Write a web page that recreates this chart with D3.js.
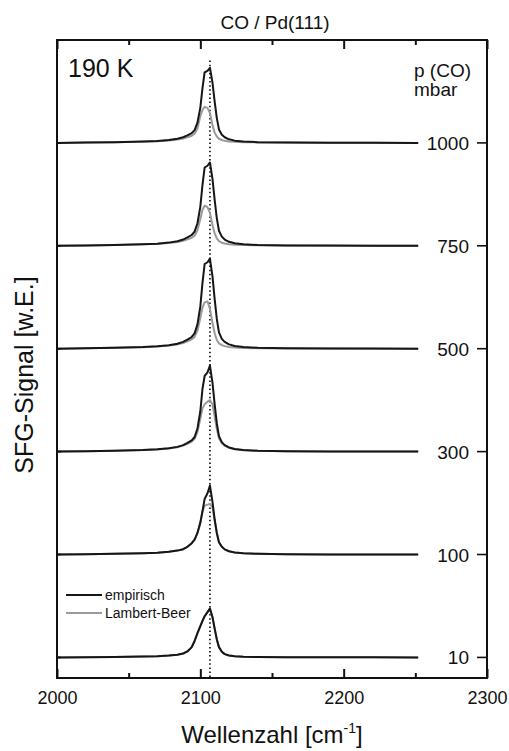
<!DOCTYPE html>
<html><head><meta charset="utf-8">
<script src="https://cdn.jsdelivr.net/npm/d3@7"></script>
<style>body{margin:0;background:#fff}svg{display:block}text{font-family:"Liberation Sans",Arial,sans-serif;fill:#111}</style>
</head><body><svg id="c" width="509" height="751"></svg>
<script>
// ---- data ----
const wavenumbers = [2000,2020,2040,2060,2070,2078,2084,2088,2091,2094,2096,2098,2100,2101.5,2103,2105,2106.7,2108.5,2110,2111.5,2113,2115,2117,2120,2124,2130,2140,2160,2190,2220,2252];
const pressures = ["10","100","300","500","750","1000"];
const offsets = [2,12,22,32,42,52];
const empirisch = [
 [0,0.02,0.05,0.09,0.12,0.18,0.26,0.38,0.58,1.0,1.6,2.35,3.05,3.55,4.0,4.4,4.76,3.9,2.8,1.75,1.0,0.55,0.32,0.18,0.11,0.07,0.04,0.02,0.01,0.005,0],
 [0,0.03,0.07,0.12,0.17,0.26,0.38,0.52,0.75,1.1,1.45,2.1,3.1,4.2,5.4,5.95,6.7,5.1,3.4,2.1,1.2,0.75,0.5,0.32,0.2,0.12,0.07,0.03,0.01,0.005,0],
 [0,0.03,0.08,0.15,0.22,0.32,0.46,0.63,0.84,1.09,1.42,2.25,3.92,6.1,7.35,7.7,8.35,6.68,4.59,2.76,1.5,0.92,0.63,0.4,0.25,0.15,0.08,0.04,0.02,0.01,0],
 [0,0.04,0.09,0.16,0.23,0.33,0.48,0.66,0.88,1.14,1.49,2.36,4.11,6.39,8.23,8.4,8.75,7.0,4.81,2.89,1.58,0.96,0.66,0.42,0.26,0.16,0.09,0.04,0.02,0.01,0],
 [0,0.03,0.08,0.15,0.21,0.31,0.45,0.61,0.81,1.05,1.38,2.19,3.81,5.91,7.61,7.78,8.1,6.48,4.46,2.67,1.46,0.89,0.61,0.39,0.24,0.15,0.08,0.04,0.02,0.01,0],
 [0,0.03,0.07,0.13,0.19,0.28,0.4,0.55,0.73,0.95,1.24,1.97,3.43,5.33,6.86,7.01,7.3,5.84,4.02,2.41,1.31,0.8,0.55,0.35,0.22,0.13,0.07,0.04,0.01,0.01,0]
];
const lambertBeer = [
 [0,0.02,0.05,0.09,0.12,0.18,0.26,0.38,0.58,1.0,1.6,2.35,3.05,3.55,4.0,4.4,4.76,3.9,2.8,1.75,1.0,0.55,0.32,0.18,0.11,0.07,0.04,0.02,0.01,0.005,0],
 [0,0.03,0.07,0.12,0.17,0.26,0.38,0.52,0.75,1.1,1.45,2.1,3.1,4.2,4.75,4.85,4.9,4.6,3.3,2.1,1.2,0.75,0.5,0.32,0.2,0.12,0.07,0.03,0.01,0.005,0],
 [0,0.03,0.08,0.15,0.21,0.3,0.43,0.58,0.76,0.98,1.25,1.9,3.2,4.2,4.6,4.85,5.0,4.6,3.4,2.2,1.3,0.82,0.58,0.37,0.23,0.14,0.08,0.04,0.02,0.01,0],
 [0,0.04,0.09,0.15,0.21,0.3,0.42,0.56,0.72,0.92,1.15,1.75,3.0,4.0,4.5,4.6,3.9,2.5,1.5,0.85,0.52,0.35,0.25,0.17,0.12,0.08,0.05,0.03,0.01,0.005,0],
 [0,0.03,0.08,0.14,0.19,0.27,0.37,0.48,0.62,0.78,0.98,1.5,2.6,3.5,3.9,3.75,3.2,2.0,1.2,0.72,0.45,0.3,0.22,0.15,0.1,0.07,0.05,0.03,0.01,0.005,0],
 [0,0.03,0.07,0.12,0.17,0.24,0.33,0.43,0.55,0.7,0.9,1.4,2.6,3.2,3.5,3.4,2.9,1.7,1.0,0.62,0.4,0.28,0.2,0.14,0.1,0.07,0.05,0.03,0.01,0.005,0]
];
const xTicks = [2000,2100,2200,2300];
const xMinorTicks = [2050,2150,2250];
const refWavenumber = 2106.7;
const refTop = 60;
const legendItems = ["empirisch","Lambert-Beer"];

// ---- layout ----
const svg = d3.select("#c");
const L=57, R=487, T=40, B=678;
const x = d3.scaleLinear().domain([2000,2300]).range([L,R]);
const y = d3.scaleLinear().domain([0,62]).range([B,T]);
const colEmp = "#161616", colLB = "#9a9a9a";

// dotted reference line
svg.append("line").attr("x1",x(refWavenumber)).attr("x2",x(refWavenumber))
  .attr("y1",y(refTop)).attr("y2",y(0))
  .attr("stroke","#222").attr("stroke-width",1.8).attr("stroke-dasharray","1.5,2.6");

const line = (off)=>d3.line().x((d,i)=>x(wavenumbers[i])).y(d=>y(d+off));
lambertBeer.forEach((s,k)=>{
  svg.append("path").attr("d",line(offsets[k])(s)).attr("fill","none")
    .attr("stroke",colLB).attr("stroke-width",2).attr("stroke-linejoin","round");
});
empirisch.forEach((s,k)=>{
  svg.append("path").attr("d",line(offsets[k])(s)).attr("fill","none")
    .attr("stroke",colEmp).attr("stroke-width",2).attr("stroke-linejoin","round");
});

// pressure labels and right ticks
pressures.forEach((p,k)=>{
  svg.append("text").attr("x",469).attr("y",y(offsets[k])+7).attr("text-anchor","end")
    .attr("font-size",19).text(p);
  svg.append("line").attr("x1",R-10).attr("x2",R).attr("y1",y(offsets[k])).attr("y2",y(offsets[k]))
    .attr("stroke","#111").attr("stroke-width",1.6);
  svg.append("line").attr("x1",L).attr("x2",L+4).attr("y1",y(offsets[k])).attr("y2",y(offsets[k]))
    .attr("stroke","#111").attr("stroke-width",1.6);
});

// axes
const axB = d3.axisBottom(x).tickValues(xTicks).tickSize(-9).tickPadding(13).tickFormat(d3.format("d"));
const gB = svg.append("g").attr("transform",`translate(0,${B})`).call(axB);
gB.select(".domain").remove();
gB.selectAll("line").attr("stroke","#111").attr("stroke-width",2);
gB.selectAll("text").attr("font-size",18).attr("font-family","Liberation Sans, Arial, sans-serif").attr("fill","#111");
const axBm = d3.axisBottom(x).tickValues(xMinorTicks).tickSize(-5).tickFormat("");
const gBm = svg.append("g").attr("transform",`translate(0,${B})`).call(axBm);
gBm.select(".domain").remove(); gBm.selectAll("line").attr("stroke","#111").attr("stroke-width",2);
const axT = d3.axisTop(x).tickValues(xTicks).tickSize(-9).tickFormat("");
const gT = svg.append("g").attr("transform",`translate(0,${T})`).call(axT);
gT.select(".domain").remove(); gT.selectAll("line").attr("stroke","#111").attr("stroke-width",2);
const axTm = d3.axisTop(x).tickValues(xMinorTicks).tickSize(-5).tickFormat("");
const gTm = svg.append("g").attr("transform",`translate(0,${T})`).call(axTm);
gTm.select(".domain").remove(); gTm.selectAll("line").attr("stroke","#111").attr("stroke-width",2);

// frame
svg.append("rect").attr("x",L).attr("y",T).attr("width",R-L).attr("height",B-T)
  .attr("fill","none").attr("stroke","#111").attr("stroke-width",2);

// legend
legendItems.forEach((t,i)=>{
  const yy = 595 + i*18;
  svg.append("line").attr("x1",66).attr("x2",102).attr("y1",yy).attr("y2",yy)
    .attr("stroke", i===0?colEmp:colLB).attr("stroke-width",2);
  svg.append("text").attr("x",105).attr("y",yy+5).attr("font-size",14).text(t);
});

// texts
svg.append("text").attr("x",275).attr("y",29).attr("text-anchor","middle").attr("font-size",19).text("CO / Pd(111)");
svg.append("text").attr("x",68).attr("y",77).attr("font-size",25).text("190 K");
svg.append("text").attr("x",414).attr("y",77).attr("font-size",19).text("p (CO)");
svg.append("text").attr("x",414).attr("y",96).attr("font-size",19).text("mbar");
const xl = svg.append("text").attr("x",272).attr("y",743).attr("text-anchor","middle").attr("font-size",24);
xl.append("tspan").text("Wellenzahl [cm");
xl.append("tspan").attr("font-size",14).attr("dy",-10).text("-1");
xl.append("tspan").attr("dy",10).text("]");
svg.append("text").attr("transform","translate(33,375) rotate(-90)").attr("text-anchor","middle")
  .attr("font-size",25).text("SFG-Signal [w.E.]");
</script></body></html>
